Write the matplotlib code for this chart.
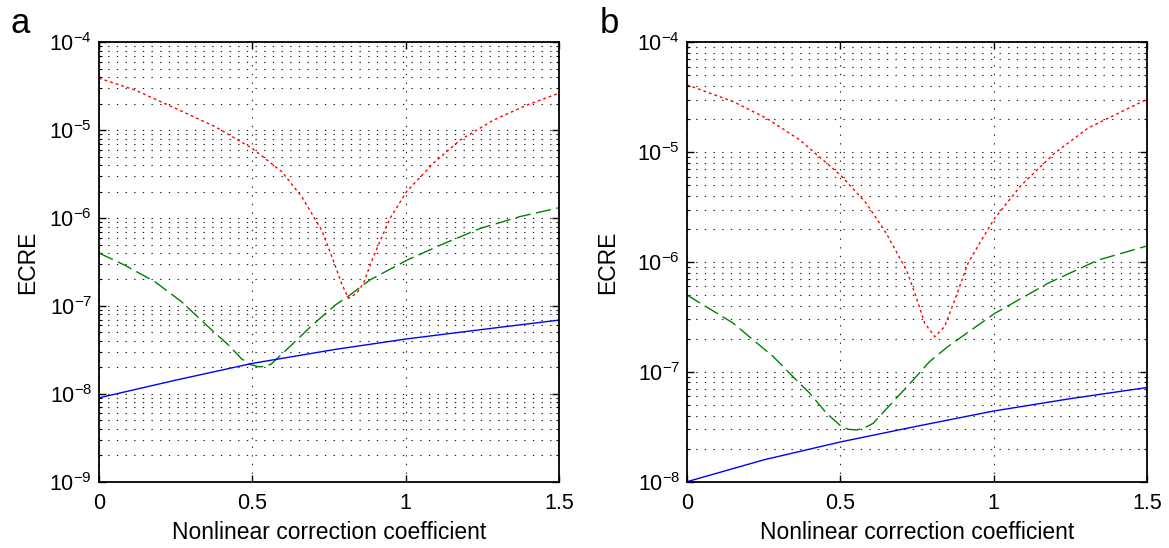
"""
ECRE versus nonlinear correction coefficient, two panels on log scale.
"""

import matplotlib
matplotlib.use('Agg')
import matplotlib.pyplot as plt
from matplotlib.ticker import LogLocator, LogFormatterSciNotation, NullFormatter

plt.rcParams['font.family'] = ['Liberation Sans', 'DejaVu Sans']
plt.rcParams['mathtext.fontset'] = 'custom'
plt.rcParams['mathtext.rm'] = 'Liberation Sans'
plt.rcParams['mathtext.default'] = 'regular'

# ---- panel a data ----
a_red_x = [0, 0.117, 0.248, 0.378, 0.5, 0.596, 0.661, 0.726, 0.764, 0.791, 0.813,
           0.84, 0.862, 0.894, 0.949, 1.003, 1.09, 1.177, 1.286, 1.395, 1.5]
a_red_y = [3.9e-5, 2.87e-5, 1.78e-5, 1.1e-5, 6.2e-6, 3.37e-6, 1.75e-6, 7.3e-7, 3.3e-7,
           1.8e-7, 1.22e-7, 1.39e-7, 1.8e-7, 3.6e-7, 9.9e-7, 2.0e-6, 4.2e-6, 7.7e-6,
           1.3e-5, 1.93e-5, 2.63e-5]
a_green_x = [0, 0.085, 0.183, 0.27, 0.356, 0.422, 0.465, 0.495, 0.52, 0.545, 0.563,
             0.628, 0.683, 0.72, 0.77, 0.818, 0.883, 1.003, 1.112, 1.242, 1.373, 1.5]
a_green_y = [4.0e-7, 2.9e-7, 1.88e-7, 1.11e-7, 5.8e-8, 3.6e-8, 2.5e-8, 2.15e-8, 2.03e-8,
             2.05e-8, 2.2e-8, 3.6e-8, 5.5e-8, 7.2e-8, 1.02e-7, 1.33e-7, 1.97e-7, 3.3e-7,
             4.9e-7, 7.6e-7, 1.04e-6, 1.31e-6]
a_blue_x = [0, 0.25, 0.5, 0.77, 1.0, 1.25, 1.5]
a_blue_y = [9.0e-9, 1.43e-8, 2.22e-8, 3.2e-8, 4.2e-8, 5.4e-8, 6.9e-8]

# ---- panel b data ----
b_red_x = [0, 0.151, 0.26, 0.368, 0.5, 0.585, 0.65, 0.716, 0.743, 0.775, 0.808,
           0.84, 0.873, 0.916, 0.96, 1.003, 1.09, 1.199, 1.307, 1.416, 1.5]
b_red_y = [4.1e-5, 2.88e-5, 2.03e-5, 1.29e-5, 6.2e-6, 3.42e-6, 1.82e-6, 8.4e-7, 5.2e-7,
           2.77e-7, 2.09e-7, 2.58e-7, 4.5e-7, 9.7e-7, 1.58e-6, 2.5e-6, 5.0e-6, 9.8e-6,
           1.65e-5, 2.33e-5, 3.03e-5]
b_green_x = [0, 0.08, 0.151, 0.216, 0.281, 0.346, 0.4, 0.455, 0.498, 0.525, 0.553,
             0.58, 0.607, 0.672, 0.737, 0.791, 0.851, 1.003, 1.177, 1.34, 1.5]
b_green_y = [5.0e-7, 3.66e-7, 2.77e-7, 1.95e-7, 1.38e-7, 9.0e-8, 6.4e-8, 4.2e-8, 3.28e-8,
             3.0e-8, 2.96e-8, 3.1e-8, 3.4e-8, 5.35e-8, 8.4e-8, 1.24e-7, 1.7e-7, 3.4e-7,
             6.4e-7, 1.04e-6, 1.4e-6]
b_blue_x = [0, 0.25, 0.5, 0.75, 1.0, 1.25, 1.5]
b_blue_y = [1.0e-8, 1.58e-8, 2.3e-8, 3.2e-8, 4.4e-8, 5.7e-8, 7.2e-8]

x_ticks = [0, 0.5, 1, 1.5]
x_tick_labels = ['0', '0.5', '1', '1.5']
x_label = 'Nonlinear correction coefficient'
y_label = 'ECRE'

W, H = 1169, 548
grid_style = dict(color='0.1', linestyle=(0, (1.2, 6.6)), linewidth=0.8)


def draw_panel(ax, series, ylim, ylabel_x):
    """Draw the three curves and MATLAB-like axes on one panel."""
    (rx, ry), (gx, gy), (bx, by) = series
    ax.plot(rx, ry, color='#ff0000', linestyle=(0, (2, 2.2)), linewidth=1.0)
    ax.plot(gx, gy, color='#008000', linestyle=(0, (11, 4)), linewidth=1.0)
    ax.plot(bx, by, color='#0000ff', linestyle='-', linewidth=1.0)

    ax.set_yscale('log')
    ax.set_xlim(0, 1.5)
    ax.set_ylim(*ylim)
    ax.set_xticks(x_ticks)
    ax.set_xticklabels(x_tick_labels)
    ax.yaxis.set_major_locator(LogLocator(base=10, numticks=20))
    ax.yaxis.set_major_formatter(LogFormatterSciNotation())
    ax.yaxis.set_minor_locator(LogLocator(base=10, subs=range(2, 10), numticks=20))
    ax.yaxis.set_minor_formatter(NullFormatter())

    ax.set_axisbelow(True)
    ax.grid(True, which='major', axis='both', **grid_style)
    ax.grid(True, which='minor', axis='y', **grid_style)

    ax.tick_params(which='both', direction='in', top=True, right=True, labelsize=15.5)
    ax.tick_params(which='major', length=5, width=1.0)
    ax.tick_params(which='minor', length=2.5, width=0.8)
    ax.tick_params(axis='x', pad=8)
    ax.tick_params(axis='y', pad=5)
    for s in ax.spines.values():
        s.set_linewidth(1.3)

    ax.set_xlabel(x_label, fontsize=16.5)
    ax.set_ylabel(y_label, fontsize=16.5)
    ax.xaxis.set_label_coords(0.5, -0.09)
    ax.yaxis.set_label_coords(ylabel_x, 0.5)


fig = plt.figure(figsize=(W / 100, H / 100), dpi=100)
bottom = (H - 481.7) / H
height = 439.4 / H
ax_a = fig.add_axes([99 / W, bottom, 460 / W, height])
ax_b = fig.add_axes([687 / W, bottom, 460 / W, height])

draw_panel(ax_a, [(a_red_x, a_red_y), (a_green_x, a_green_y), (a_blue_x, a_blue_y)],
           (1e-9, 1e-4), -0.13)
draw_panel(ax_b, [(b_red_x, b_red_y), (b_green_x, b_green_y), (b_blue_x, b_blue_y)],
           (1e-8, 1e-4), -0.148)

fig.text(11 / W, 1 - 33 / H, 'a', fontsize=25, va='baseline')
fig.text(600 / W, 1 - 33 / H, 'b', fontsize=25, va='baseline')

fig.savefig('out.png', dpi=100)
